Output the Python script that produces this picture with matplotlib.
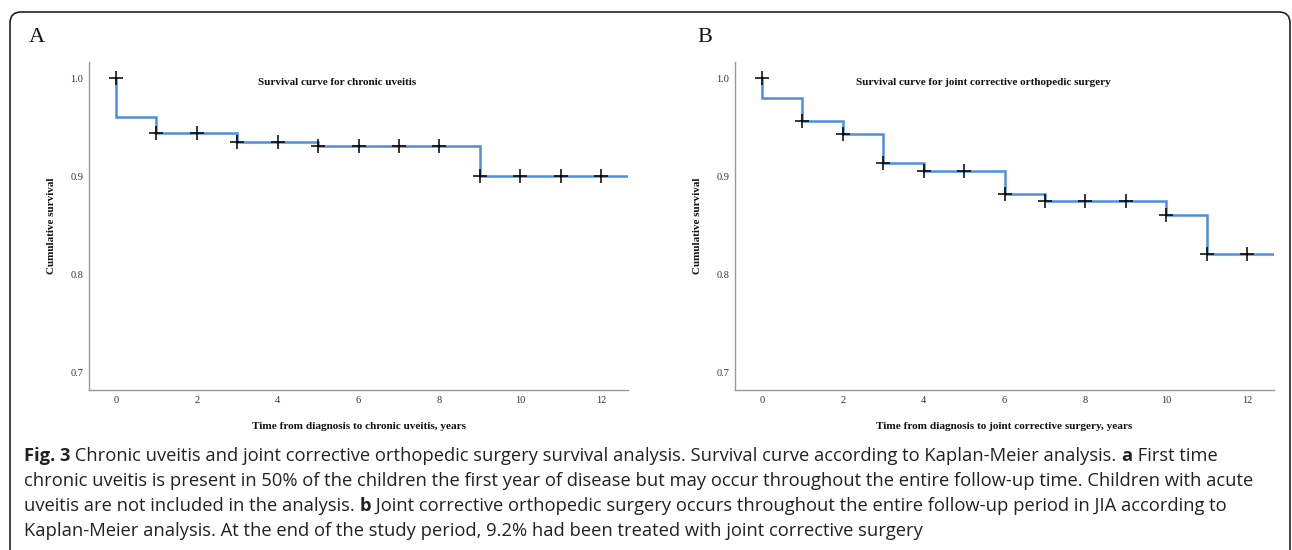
import numpy as np
import matplotlib.pyplot as plt
from matplotlib.patches import FancyBboxPatch
from matplotlib.transforms import IdentityTransform

# Kaplan-Meier estimates (event times and survival after each event)
uveitis_event_t = [0, 1, 3, 5, 9]
uveitis_event_s = [0.960, 0.944, 0.935, 0.931, 0.900]
uveitis_cens_t = [0, 1, 2, 3, 4, 5, 6, 7, 8, 9, 10, 11, 12]
uveitis_cens_s = [1.000, 0.944, 0.944, 0.935, 0.935, 0.931, 0.931, 0.931, 0.931,
                  0.900, 0.900, 0.900, 0.900]

surgery_event_t = [0, 1, 2, 3, 4, 6, 7, 10, 11]
surgery_event_s = [0.980, 0.956, 0.943, 0.914, 0.905, 0.882, 0.875, 0.861, 0.821]
surgery_cens_t = [0, 1, 2, 3, 4, 5, 6, 7, 8, 9, 10, 11, 12]
surgery_cens_s = [1.000, 0.956, 0.943, 0.914, 0.905, 0.905, 0.882, 0.875, 0.875,
                  0.875, 0.861, 0.821, 0.821]

t_end = 12.67
yticks = [0.7, 0.8, 0.9, 1.0]
xticks = [0, 2, 4, 6, 8, 10, 12]

panels = [
    ("A", "Survival curve for chronic uveitis",
     "Time from diagnosis to chronic uveitis, years",
     uveitis_event_t, uveitis_event_s, uveitis_cens_t, uveitis_cens_s),
    ("B", "Survival curve for joint corrective orthopedic surgery",
     "Time from diagnosis to joint corrective surgery, years",
     surgery_event_t, surgery_event_s, surgery_cens_t, surgery_cens_s),
]

W, H = 1292, 550
fig = plt.figure(figsize=(W / 100, H / 100), dpi=100)
serif = "Liberation Serif"
blue = "#4a8fe0"
axis_grey = "#9a9a9a"

lefts = [89, 735]
letter_x = [29, 697]
for (letter, title, xlabel, et, es, ct, cs), lx, px in zip(panels, lefts, letter_x):
    ax = fig.add_axes([lx / W, 1 - 390 / H, 539 / W, 328 / H])
    # build the step curve
    xs = [0.0]
    ys = [1.0]
    for t, s in zip(et, es):
        xs += [t, t]
        ys += [ys[-1], s]
    xs.append(t_end)
    ys.append(ys[-1])
    ax.plot(xs, ys, color=blue, lw=1.8, solid_joinstyle="miter", zorder=2)
    ax.plot(ct, cs, ls="none", marker="+", ms=10, mew=1.1, color="black", zorder=3)

    ax.set_xlim(-0.67, t_end)
    ax.set_ylim(0.6827, 1.0163)
    ax.set_xticks(xticks)
    ax.set_yticks(yticks)
    ax.set_yticklabels([f"{v:.1f}" for v in yticks])
    ax.tick_params(length=0, labelsize=7.5, labelcolor="#333333", pad=4)
    for lab in ax.get_xticklabels() + ax.get_yticklabels():
        lab.set_fontfamily(serif)
    for side in ["top", "right"]:
        ax.spines[side].set_visible(False)
    for side in ["left", "bottom"]:
        ax.spines[side].set_color(axis_grey)
        ax.spines[side].set_linewidth(1.0)

    ax.text(0.46, 0.937, title, transform=ax.transAxes, ha="center", va="center",
            fontsize=8, fontweight="bold", family=serif, color="#111111")
    ax.set_ylabel("Cumulative survival", fontsize=8, fontweight="bold",
                  family=serif, color="#111111")
    ax.yaxis.set_label_coords(-0.061, 0.5)
    ax.set_xlabel(xlabel, fontsize=8.1, fontweight="bold", family=serif,
                  color="#111111")
    ax.xaxis.set_label_coords(0.5, -0.0976)

    fig.text(px / W, 1 - 38 / H, letter, fontsize=16, family=serif,
             ha="left", va="center", color="#111111")

# rounded frame around the figure block
frame = FancyBboxPatch((10, -40), 1280, 538 + 40,
                       boxstyle="round,pad=0,rounding_size=11",
                       transform=IdentityTransform(), fill=False,
                       edgecolor="#222222", lw=1.2)
fig.patches.append(frame)

# caption with bold lead-ins
caption = [
    [("Fig. 3", True), (" Chronic uveitis and joint corrective orthopedic surgery survival analysis. "
                        "Survival curve according to Kaplan-Meier analysis. ", False),
     ("a", True), (" First time", False)],
    [("chronic uveitis is present in 50% of the children the first year of disease but may occur "
      "throughout the entire follow-up time. Children with acute", False)],
    [("uveitis are not included in the analysis. ", False), ("b", True),
     (" Joint corrective orthopedic surgery occurs throughout the entire follow-up period in JIA "
      "according to", False)],
    [("Kaplan-Meier analysis. At the end of the study period, 9.2% had been treated with joint "
      "corrective surgery", False)],
]
cap_font = "Open Sans"
cap_size = 13.2
renderer = fig.canvas.get_renderer()
for i, line in enumerate(caption):
    x = 24
    y = H - (460.7 + 25 * i)
    for txt, bold in line:
        t = fig.text(x / W, y / H, txt, fontsize=cap_size, family=cap_font,
                     fontweight="bold" if bold else "normal", ha="left",
                     va="baseline", color="#222222")
        x += t.get_window_extent(renderer).width

fig.savefig("out.png", dpi=100)
